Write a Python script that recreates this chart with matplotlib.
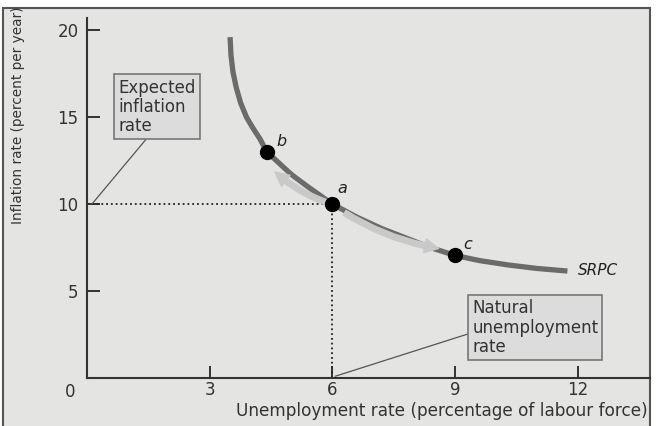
import matplotlib
matplotlib.use("Agg")
import matplotlib.pyplot as plt
from matplotlib.patches import Rectangle

# short-run Phillips curve
curve_x = [3.5, 3.52, 3.57, 3.65, 3.76, 3.9, 4.05, 4.23, 4.4, 4.7, 5.0, 5.4, 6.0, 6.6, 7.2, 7.8, 8.4, 9.0, 9.6, 10.3, 11.0, 11.75]
curve_y = [19.6, 18.6, 17.6, 16.7, 15.8, 15.0, 14.4, 13.75, 13.0, 12.35, 11.7, 11.0, 10.0, 9.25, 8.6, 8.05, 7.5, 7.05, 6.75, 6.5, 6.3, 6.15]

point_names = ["b", "a", "c"]
point_x = [4.4, 6.0, 9.0]
point_y = [13.0, 10.0, 7.05]

x_ticks = [3, 6, 9, 12]
y_ticks = [5, 10, 15, 20]

plt.rcParams['font.family'] = ['DejaVu Sans']
fig = plt.figure(figsize=(6.56, 4.26), dpi=100)
fig.patch.set_facecolor('white')

# grey panel with dark frame
fig.patches.append(Rectangle((3/656, -0.02), 647/656, (426-8)/426 + 0.02,
                             transform=fig.transFigure, facecolor='#e4e4e2',
                             edgecolor='#555555', lw=1.5, zorder=-5))

ax = fig.add_axes([87/656, 48/426, (650-87)/656, (378-18)/426])
ax.set_facecolor('none')
ax.set_xlim(0, 13.77)
ax.set_ylim(0, 20.7)
for s in ['top', 'right']:
    ax.spines[s].set_visible(False)
for s in ['left', 'bottom']:
    ax.spines[s].set_color('#333333')
    ax.spines[s].set_linewidth(1.5)

ax.set_xticks(x_ticks)
ax.set_yticks(y_ticks)
ax.tick_params(direction='in', length=9, width=1.4, color='#333333',
               labelsize=12, labelcolor='#333333')
ax.tick_params(axis='x', pad=2.5)
ax.tick_params(axis='y', pad=6)
ax.text(-0.42, -0.3, "0", ha='center', va='top', fontsize=12, color='#333333')

# dotted guides to point a
ax.plot([0, point_x[1]], [point_y[1], point_y[1]], ls=':', color='#222222', lw=1.3)
ax.plot([point_x[1], point_x[1]], [0, point_y[1]], ls=':', color='#222222', lw=1.3)

# movement arrows along the curve
ax.annotate("", xy=(4.6, 11.85), xytext=(5.85, 10.1),
            arrowprops=dict(arrowstyle='simple,head_width=1.0,head_length=1.0,tail_width=0.4',
                            color='#c9c9c9', connectionstyle='arc3,rad=-0.1', shrinkA=0, shrinkB=0))
ax.annotate("", xy=(8.6, 7.45), xytext=(6.3, 9.5),
            arrowprops=dict(arrowstyle='simple,head_width=1.0,head_length=1.0,tail_width=0.4',
                            color='#c9c9c9', connectionstyle='arc3,rad=0.1', shrinkA=0, shrinkB=0))

ax.plot(curve_x, curve_y, color='#6b6b6b', lw=3.8, solid_capstyle='butt', solid_joinstyle='round')
ax.plot(point_x, point_y, 'o', color='black', markersize=10, zorder=5)

label_dx = [0.35, 0.25, 0.3]
label_dy = [0.6, 0.9, 0.6]
for name, x, y, dx, dy in zip(point_names, point_x, point_y, label_dx, label_dy):
    ax.text(x + dx, y + dy, name, fontsize=11.5, style='italic', color='#222222',
            ha='center', va='center')
ax.text(12.0, 6.2, "SRPC", fontsize=11, style='italic', color='#222222', va='center')

box = dict(boxstyle='square,pad=0.25', facecolor='#dcdcdc', edgecolor='#777777', lw=1.2)
ax.annotate("Expected\ninflation\nrate", xy=(0.12, 10.0), xytext=(0.76, 15.6),
            fontsize=12, color='#333333', va='center', ha='left', bbox=box,
            linespacing=1.08,
            arrowprops=dict(arrowstyle='-', color='#555555', lw=0.9,
                            relpos=(0.41, 0.0), shrinkA=0, shrinkB=0))
ax.annotate("Natural\nunemployment\nrate", xy=(6.07, 0.1), xytext=(9.42, 2.9),
            fontsize=12, color='#333333', va='center', ha='left', bbox=box,
            linespacing=1.08,
            arrowprops=dict(arrowstyle='-', color='#555555', lw=0.9,
                            relpos=(0.0, 0.41), shrinkA=0, shrinkB=0))

fig.text(648/656, 1 - 411/426, "Unemployment rate (percentage of labour force)",
         ha='right', va='center', fontsize=12.2, color='#333333')
fig.text(18/656, 1 - 115/426, "Inflation rate (percent per year)",
         rotation=90, ha='center', va='center', fontsize=9.8, color='#333333')

fig.savefig("out.png", dpi=100)
